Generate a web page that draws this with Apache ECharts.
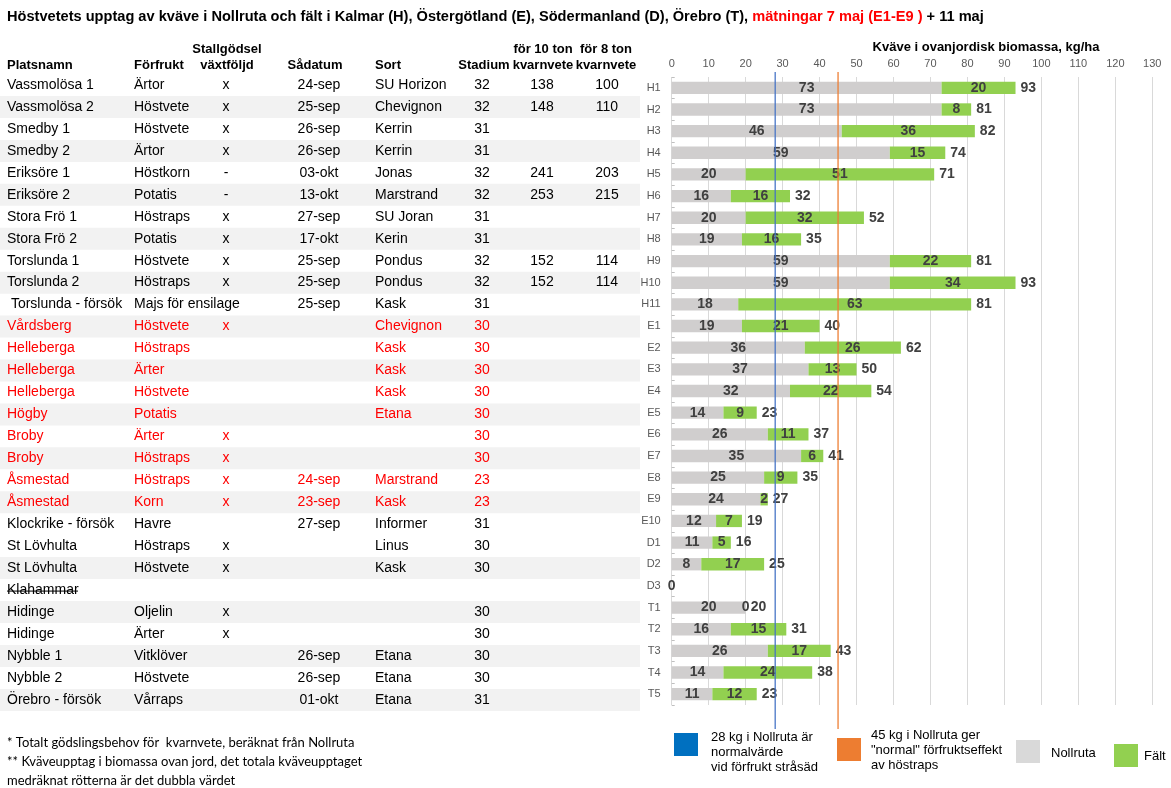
<!DOCTYPE html>
<html>
<head>
<meta charset="utf-8">
<script src="https://cdn.jsdelivr.net/npm/echarts@6/dist/echarts.min.js"></script>
<style>
  html, body { margin: 0; padding: 0; background: #fff; }
  #chart { width: 1171px; height: 788px; }
</style>
</head>
<body>
<div id="chart"></div>
<script>
// chart data
const categories = ['H1','H2','H3','H4','H5','H6','H7','H8','H9','H10','H11',
  'E1','E2','E3','E4','E5','E6','E7','E8','E9','E10','D1','D2','D3','T1','T2','T3','T4','T5'];
const nollruta = [73,73,46,59,20,16,20,19,59,59,18, 19,36,37,32,14,26,35,25,24,12, 11,8,0, 20,16,26,14,11];
const falt     = [20,8,36,15,51,16,32,16,22,34,63, 21,26,13,22,9,11,6,9,2,7, 5,17,null, 0,15,17,24,12];
const totals   = [93,81,82,74,71,32,52,35,81,93,81, 40,62,50,54,23,37,41,35,27,19, 16,25,null, 20,31,43,38,23];
const xTicks = { min: 0, max: 130, interval: 10 };
const refLines = [28, 45];

// table data
const platsnamn = ['Vassmolösa 1','Vassmolösa 2','Smedby 1','Smedby 2','Eriksöre 1','Eriksöre 2','Stora Frö 1','Stora Frö 2',
  'Torslunda 1','Torslunda 2',' Torslunda - försök','Vårdsberg','Helleberga','Helleberga','Helleberga','Högby','Broby','Broby',
  'Åsmestad','Åsmestad','Klockrike - försök','St Lövhulta','St Lövhulta','Klahammar','Hidinge','Hidinge','Nybble 1','Nybble 2','Örebro - försök'];
const forfrukt = ['Ärtor','Höstvete','Höstvete','Ärtor','Höstkorn','Potatis','Höstraps','Potatis','Höstvete','Höstraps','Majs för ensilage',
  'Höstvete','Höstraps','Ärter','Höstvete','Potatis','Ärter','Höstraps','Höstraps','Korn','Havre','Höstraps','Höstvete','',
  'Oljelin','Ärter','Vitklöver','Höstvete','Vårraps'];
const stallgodsel = ['x','x','x','x','-','-','x','x','x','x','','x','','','','','x','x','x','x','','x','x','','x','x','','',''];
const sadatum = ['24-sep','25-sep','26-sep','26-sep','03-okt','13-okt','27-sep','17-okt','25-sep','25-sep','25-sep',
  '','','','','','','','24-sep','23-sep','27-sep','','','','','','26-sep','26-sep','01-okt'];
const sortNames = ['SU Horizon','Chevignon','Kerrin','Kerrin','Jonas','Marstrand','SU Joran','Kerin','Pondus','Pondus','Kask',
  'Chevignon','Kask','Kask','Kask','Etana','','','Marstrand','Kask','Informer','Linus','Kask','','','','Etana','Etana','Etana'];
const stadium = ['32','32','31','31','32','32','31','31','32','32','31','30','30','30','30','30','30','30','23','23',
  '31','30','30','','30','30','30','30','31'];
const kvarn10 = ['138','148','','','241','253','','','152','152'];
const kvarn8 = ['100','110','','','203','215','','','114','114'];
const redRows = [11,12,13,14,15,16,17,18,19];
const shadedRows = [1,3,5,7,9,11,13,15,17,19,22,24,26,28];

const FONT = 'Arial, "Liberation Sans", sans-serif';
const rowY = i => 85 + i * 21.96;

const graphic = [];

// row shading
shadedRows.forEach(i => {
  graphic.push({ type: 'rect', z: -1, shape: { x: 0, y: rowY(i) - 11, width: 640, height: 22 }, style: { fill: '#f2f2f2' } });
});

const txt = (text, x, y, opts = {}) => ({
  type: 'text', x, y, z: 10,
  style: {
    text, fill: opts.color || '#000', font: opts.font || ('14px ' + FONT),
    textAlign: opts.align || 'left', textVerticalAlign: opts.vAlign || 'middle',
    lineHeight: opts.lineHeight
  }
});

// title
graphic.push({
  type: 'text', x: 7, y: 17, z: 10,
  style: {
    text: '{a|Höstvetets upptag av kväve i Nollruta och fält i Kalmar (H), Östergötland (E), Södermanland (D), Örebro (T), }{r|mätningar 7 maj (E1-E9 )}{a| + 11 maj}',
    textVerticalAlign: 'middle',
    rich: {
      a: { fill: '#000', font: 'bold 14.6px ' + FONT },
      r: { fill: '#ff0000', font: 'bold 14.6px ' + FONT }
    }
  }
});

// table header
const hf = 'bold 13px ' + FONT;
graphic.push(txt('Platsnamn', 7, 65, { font: hf }));
graphic.push(txt('Förfrukt', 134, 65, { font: hf }));
graphic.push(txt('Stallgödsel', 227, 49, { font: hf, align: 'center' }));
graphic.push(txt('växtföljd', 227, 65, { font: hf, align: 'center' }));
graphic.push(txt('Sådatum', 315, 65, { font: hf, align: 'center' }));
graphic.push(txt('Sort', 375, 65, { font: hf }));
graphic.push(txt('Stadium', 484, 65, { font: hf, align: 'center' }));
graphic.push(txt('för 10 ton', 543, 49, { font: hf, align: 'center' }));
graphic.push(txt('kvarnvete', 543, 65, { font: hf, align: 'center' }));
graphic.push(txt('för 8 ton', 606, 49, { font: hf, align: 'center' }));
graphic.push(txt('kvarnvete', 606, 65, { font: hf, align: 'center' }));

// table rows
platsnamn.forEach((name, i) => {
  const y = rowY(i);
  const color = redRows.includes(i) ? '#ff0000' : '#000';
  graphic.push(txt(name, 7, y, { color }));
  if (forfrukt[i]) graphic.push(txt(forfrukt[i], 134, y, { color }));
  if (stallgodsel[i]) graphic.push(txt(stallgodsel[i], 226, y, { color, align: 'center' }));
  if (sadatum[i]) graphic.push(txt(sadatum[i], 319, y, { color, align: 'center' }));
  if (sortNames[i]) graphic.push(txt(sortNames[i], 375, y, { color }));
  if (stadium[i]) graphic.push(txt(stadium[i], 482, y, { color, align: 'center' }));
  if (kvarn10[i]) graphic.push(txt(kvarn10[i], 542, y, { color, align: 'center' }));
  if (kvarn8[i]) graphic.push(txt(kvarn8[i], 607, y, { color, align: 'center' }));
});
// Klahammar is struck through
graphic.push({ type: 'line', z: 11, shape: { x1: 7, y1: rowY(23) + 1, x2: 78, y2: rowY(23) + 1 }, style: { stroke: '#000', lineWidth: 1 } });

// footnotes
const ff = '13px Lato, "Open Sans", sans-serif';
graphic.push(txt('* Totalt gödslingsbehov för  kvarnvete, beräknat från Nollruta', 7, 743, { font: ff }));
graphic.push(txt('** Kväveupptag i biomassa ovan jord, det totala kväveupptaget', 7, 762, { font: ff }));
graphic.push(txt('medräknat rötterna är det dubbla värdet', 7, 781, { font: ff }));

// axis title
graphic.push(txt('Kväve i ovanjordisk biomassa, kg/ha', 986, 47, { font: 'bold 13px ' + FONT, align: 'center' }));

// legend
const lf = '13px ' + FONT;
graphic.push({ type: 'rect', shape: { x: 674, y: 733, width: 24, height: 23 }, style: { fill: '#0070c0' } });
graphic.push(txt('28 kg i Nollruta är\nnormalvärde\nvid förfrukt stråsäd', 711, 730, { font: lf, vAlign: 'top', lineHeight: 15 }));
graphic.push({ type: 'rect', shape: { x: 837, y: 738, width: 24, height: 23 }, style: { fill: '#ed7d31' } });
graphic.push(txt('45 kg i Nollruta ger\n"normal" förfruktseffekt\nav höstraps', 871, 728, { font: lf, vAlign: 'top', lineHeight: 15 }));
graphic.push({ type: 'rect', shape: { x: 1016, y: 740, width: 24, height: 23 }, style: { fill: '#d9d9d9' } });
graphic.push(txt('Nollruta', 1051, 753, { font: lf }));
graphic.push({ type: 'rect', shape: { x: 1114, y: 744, width: 24, height: 23 }, style: { fill: '#92d050' } });
graphic.push(txt('Fält', 1144, 756, { font: lf }));

const chart = echarts.init(document.getElementById('chart'));

const barLabel = { show: true, position: 'inside', color: '#404040', fontSize: 14, fontWeight: 'bold', fontFamily: FONT };

chart.setOption({
  animation: false,
  backgroundColor: '#fff',
  graphic,
  grid: [
    { left: 671.7, right: 18.7, top: 77, bottom: 83 },
    { left: 671.7, right: 18.7, top: 72, bottom: 59 }
  ],
  xAxis: [
    {
      type: 'value', gridIndex: 0, position: 'top', ...xTicks,
      axisLine: { show: false }, axisTick: { show: false },
      axisLabel: { color: '#595959', fontSize: 11, fontFamily: FONT, margin: 8 },
      splitLine: { lineStyle: { color: '#d9d9d9', width: 1 } }
    },
    { type: 'value', gridIndex: 1, ...xTicks, show: false }
  ],
  yAxis: [
    {
      type: 'category', gridIndex: 0, data: categories, inverse: true,
      axisLine: { show: false },
      axisTick: { show: true, inside: true, length: 3, lineStyle: { color: '#bfbfbf' } },
      axisLabel: { color: '#595959', fontSize: 11, fontFamily: FONT, margin: 11 }
    },
    { type: 'value', gridIndex: 1, min: 0, max: 1, show: false }
  ],
  series: [
    {
      name: 'Nollruta', type: 'bar', stack: 'n', data: nollruta, barWidth: '57%',
      itemStyle: { color: '#d0cece' }, label: barLabel
    },
    {
      name: 'Fält', type: 'bar', stack: 'n', data: falt,
      itemStyle: { color: '#92d050' }, label: barLabel
    },
    {
      name: 'Totalt', type: 'bar', stack: 'n', data: totals.map(t => (t == null ? null : 0)),
      itemStyle: { color: 'transparent' },
      label: { ...barLabel, position: 'right', distance: 5, formatter: p => totals[p.dataIndex] }
    },
    ...refLines.map((v, k) => ({
      type: 'line', xAxisIndex: 1, yAxisIndex: 1, z: 5, symbol: 'none',
      data: [[v, 0], [v, 1]],
      lineStyle: { color: k === 0 ? '#4472c4' : '#ed7d31', width: 1.5, opacity: 0.85 }
    }))
  ]
});
</script>
</body>
</html>
